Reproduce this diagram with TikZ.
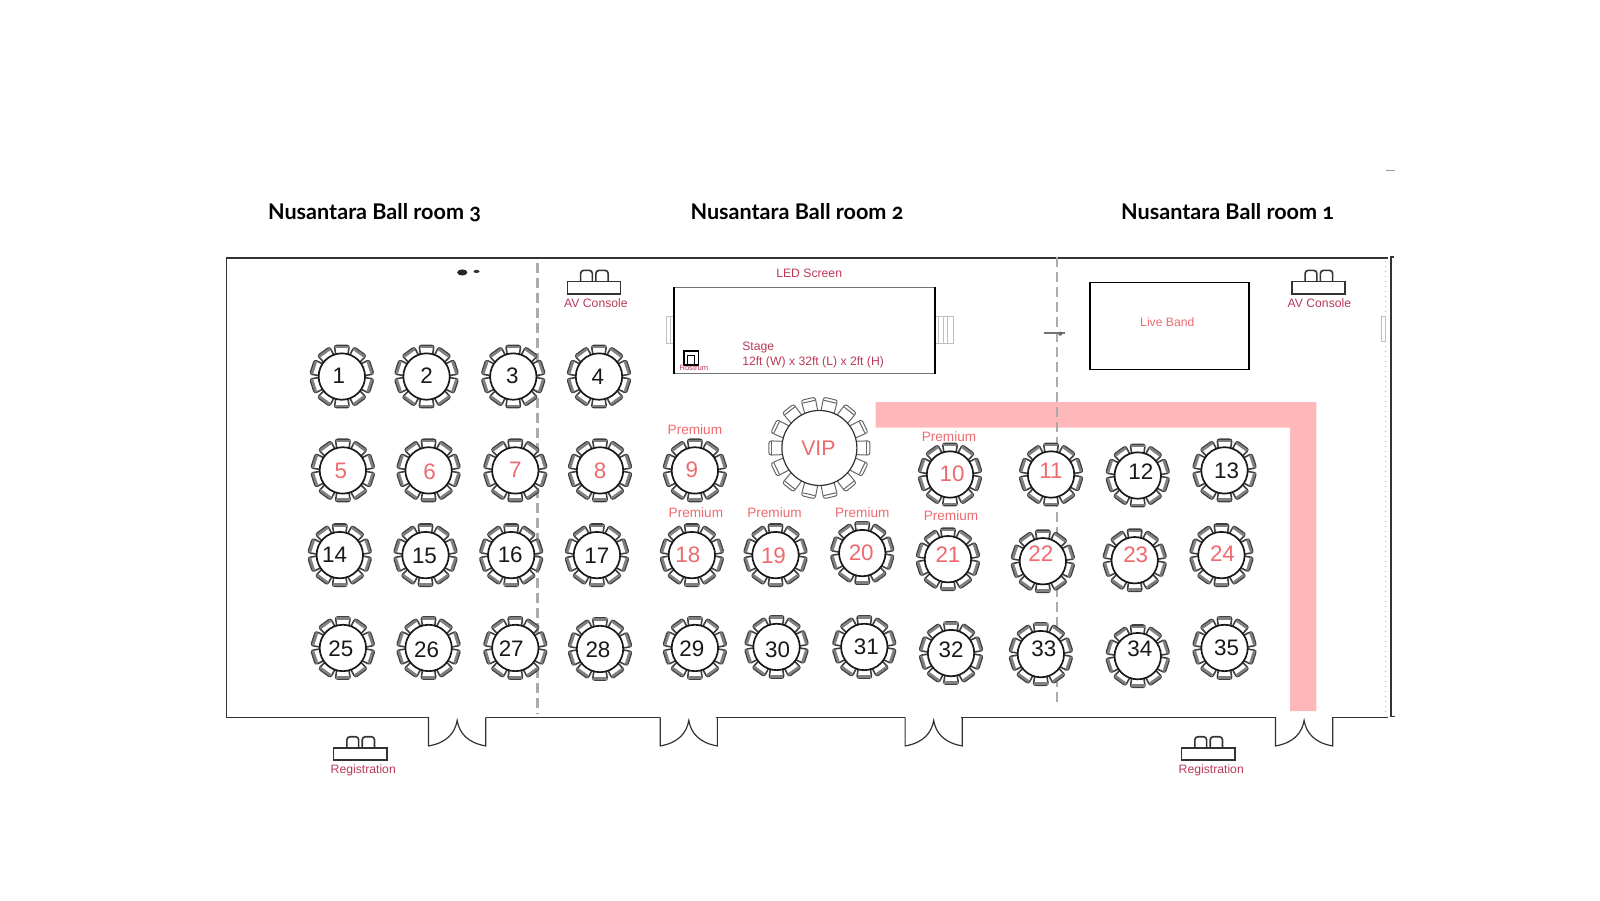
\documentclass[tikz,border=0pt]{standalone}
\usepackage{fontspec}
\setmainfont{Liberation Sans}
\newfontfamily\headfont[Numbers=OldStyle]{Lato}
\definecolor{crimson}{HTML}{B83A58}
\definecolor{salmon}{HTML}{EE6A6E}
\definecolor{bandpink}{HTML}{FFB8BA}
\definecolor{chairgray}{HTML}{404040}
\tikzset{
tablebox/.style={circle,draw=black!90,fill=white,line width=0.85pt,minimum size=23.2pt,inner sep=0pt},
blacknum/.style={text=black!90,inner sep=0pt,font=\fontsize{11.2}{12}\selectfont},
rednum/.style={blacknum,text=salmon},
roomhead/.style={anchor=base,font=\headfont\bfseries\fontsize{10.8}{12}\selectfont,text=black},
redlabel/.style={text=crimson,font=\fontsize{6.1}{7}\selectfont,inner sep=0pt},
premium/.style={text=salmon,font=\fontsize{6.8}{8}\selectfont,inner sep=0pt},
wall/.style={draw=black!80,line width=0.8pt},
divider/.style={draw=black!33,line width=1.3pt,dash pattern=on 5pt off 2.5pt},
stepline/.style={draw=black!25,line width=0.35pt},
chairline/.style={draw=chairgray,fill=white,line width=0.8pt,rounded corners=1.2pt},
tableset/.pic={
\foreach \a in {90,54,18,-18,-54,-90,-126,-162,162,126} {
\draw[chairline,rotate=\a] (20,-5.8) -- (30.5,-7.3) -- (30.5,7.3) -- (20,5.8) -- cycle;
\fill[black!50,rotate=\a] (27.5,-6.6) rectangle (30,6.6);
}
},
vipset/.pic={
\foreach \a in {0,1,...,13} {
\draw[chairline,draw=chairgray!80,line width=0.5pt,rotate=\a*360/14] (35,-6.5) -- (49.5,-7) -- (49.5,7) -- (35,6.5) -- cycle;
\draw[chairline,draw=chairgray!80,line width=0.5pt,rotate=\a*360/14] (46.5,-6.5) -- (46.5,6.5);
}
},
consoleset/.pic={
\draw[wall,rounded corners=1.5pt] (-13,0) -- (-13,-11) -- (-1.5,-11) -- (-1.5,0);
\draw[wall,rounded corners=1.5pt] (2,0) -- (2,-11) -- (14,-11) -- (14,0);
\draw[wall] (-26,0) rectangle (26,12);
},
doorset/.pic={
\draw[wall,line width=0.6pt] (0,0) -- (0,28) .. controls (18,25) and (26,15) .. (28,3) .. controls (30,15) and (38,25) .. (56,28) -- (56,0);
}
}
\newcommand{\tableat}[5]{\pic at (#2) {tableset}; \node[tablebox] (#1) at (#2) {}; \node[#5] (#1n) at (#3) {#4};}
\begin{document}
\begin{tikzpicture}[x=0.5102pt,y=-0.5102pt]
\useasboundingbox (0,0) rectangle (1568,882);
% pink walkway
\fill[bandpink] (858,394) -- (1290,394) -- (1290,697) -- (1264,697) -- (1264,419) -- (858,419) -- cycle;
% room outline
\draw[wall] (420,703) -- (222,703) -- (222,253) -- (1360,253);
\draw[wall] (476,703) -- (647,703);
\draw[wall] (702,703) -- (887,703);
\draw[wall] (942,703) -- (1250,703);
\draw[wall] (1305,703) -- (1360,703);
\draw[wall] (1366,252) -- (1363,252) -- (1363,702) -- (1367,702);
\draw[draw=black!30,line width=0.5pt,dotted] (1358,256) -- (1358,700);
\draw[stepline] (1354,310) rectangle (1358,335);
\draw[draw=black!40,line width=0.7pt] (1358,167) -- (1367,167);
\pic at (420,703) {doorset};
\pic at (647,703) {doorset};
\pic at (887,703) {doorset};
\pic at (1250,703) {doorset};
% dividers
\draw[divider] (527,258) -- (527,700);
\draw[divider] (1036,252) -- (1036,692);
% marks on the plan
\fill[black!85] (453,267) ellipse (5 and 3);
\fill[black!80] (467,266) ellipse (3 and 1.5);
\draw[draw=black!55,line width=0.7pt] (1023,326.5) -- (1044,326.5);
\fill[black!60] (1039,327) circle (2);
% room titles
\node[roomhead] (room3) at (367,215) {Nusantara Ball room 3};
\node[roomhead] (room2) at (781,215) {Nusantara Ball room 2};
\node[roomhead] (room1) at (1203,215) {Nusantara Ball room 1};
% stage
\draw[stepline] (653,310) rectangle (661,336);
\draw[stepline] (657,310) -- (657,336);
\draw[stepline] (916,310) rectangle (934,336);
\foreach \x in {920,924,928} {\draw[stepline] (\x,310) -- (\x,336);}
\node[rectangle,draw=black!55,line width=0.6pt,minimum width=130pt,minimum height=42.9pt,inner sep=0pt] (stage) at (788.5,324) {};
\draw[black,line width=0.9pt] (stage.north west) -- (stage.south west);
\draw[black,line width=0.9pt] (stage.north east) -- (stage.south east);
\node[redlabel] (led) at (793,267.5) {LED Screen};
\node[redlabel,anchor=west] (stagetitle) at (727,341) {Stage};
\node[redlabel,anchor=west] (stagesize) at (727,355) {12ft (W) x 32ft (L) x 2ft (H)};
\node[draw=black,line width=0.9pt,minimum width=7.2pt,minimum height=6.8pt,inner sep=0pt] (rostrum) at (677.5,351) {};
\draw[black,line width=0.5pt] (674,357) -- (674,348) -- (681,348) -- (681,357);
\node[redlabel,font=\fontsize{3.8}{4}\selectfont] (rostrumtext) at (680,361) {Rostrum};
% consoles
\pic at (582,276) {consoleset};
\node[redlabel] (av2) at (584,297.5) {AV Console};
\pic at (1292,276) {consoleset};
\node[redlabel] (av1) at (1293,297.5) {AV Console};
\pic at (353,733) {consoleset};
\node[redlabel] (reg3) at (356,755) {Registration};
\pic at (1184,733) {consoleset};
\node[redlabel] (reg1) at (1187,755) {Registration};
% live band
\node[rectangle,draw=black,line width=0.7pt,minimum width=79.6pt,minimum height=43.4pt,inner sep=0pt] (band) at (1146,319.5) {};
\node[redlabel,text=salmon] (bandtext) at (1144,316) {Live Band};
% tables
\tableat{t1}{335,369}{332,368}{1}{blacknum}
\tableat{t2}{418,369}{418,368}{2}{blacknum}
\tableat{t3}{503,369}{502,368}{3}{blacknum}
\tableat{t4}{587,369}{586,369}{4}{blacknum}
\tableat{t5}{336,461}{334,461}{5}{rednum}
\tableat{t6}{420,461}{421,462}{6}{rednum}
\tableat{t7}{505,461}{505,460}{7}{rednum}
\tableat{t8}{588,461}{588,461}{8}{rednum}
\tableat{t9}{681,461}{678,460}{9}{rednum}
\tableat{t10}{931,465}{933,464}{10}{rednum}
\tableat{t11}{1030,465}{1030,461}{11}{rednum}
\tableat{t12}{1115,466}{1118,462}{12}{blacknum}
\tableat{t13}{1200,461}{1202,461}{13}{blacknum}
\tableat{t14}{333,544}{328,544}{14}{blacknum}
\tableat{t15}{417,544}{416,545}{15}{blacknum}
\tableat{t16}{501,544}{500,544}{16}{blacknum}
\tableat{t17}{585,544}{585,545}{17}{blacknum}
\tableat{t18}{678,544}{674,544}{18}{rednum}
\tableat{t19}{760,544}{758,545}{19}{rednum}
\tableat{t20}{845,542}{844,542}{20}{rednum}
\tableat{t21}{929,548}{929,544}{21}{rednum}
\tableat{t22}{1022,550}{1020,543}{22}{rednum}
\tableat{t23}{1112,549}{1113,544}{23}{rednum}
\tableat{t24}{1197,544}{1198,543}{24}{rednum}
\tableat{t25}{336,635}{334,636}{25}{blacknum}
\tableat{t26}{420,635}{418,637}{26}{blacknum}
\tableat{t27}{505,635}{501,636}{27}{blacknum}
\tableat{t28}{588,636}{586,637}{28}{blacknum}
\tableat{t29}{681,635}{678,636}{29}{blacknum}
\tableat{t30}{761,634}{762,637}{30}{blacknum}
\tableat{t31}{847,634}{849,634}{31}{blacknum}
\tableat{t32}{932,640}{932,637}{32}{blacknum}
\tableat{t33}{1020,641}{1023,636}{33}{blacknum}
\tableat{t34}{1115,643}{1117,636}{34}{blacknum}
\tableat{t35}{1200,635}{1202,635}{35}{blacknum}
% vip table
\pic at (803,439) {vipset};
\node[tablebox,draw=black!80,line width=0.6pt,minimum size=37.5pt] (vip) at (803,439) {};
\node[rednum,font=\fontsize{10.6}{12}\selectfont] (viptext) at (802,439) {VIP};
% premium labels
\node[premium] (p9) at (681,421) {Premium};
\node[premium] (p18) at (682,502) {Premium};
\node[premium] (p19) at (759,502) {Premium};
\node[premium] (p20) at (845,502) {Premium};
\node[premium] (p10) at (930,428) {Premium};
\node[premium] (p21) at (932,505) {Premium};
\end{tikzpicture}
\end{document}
